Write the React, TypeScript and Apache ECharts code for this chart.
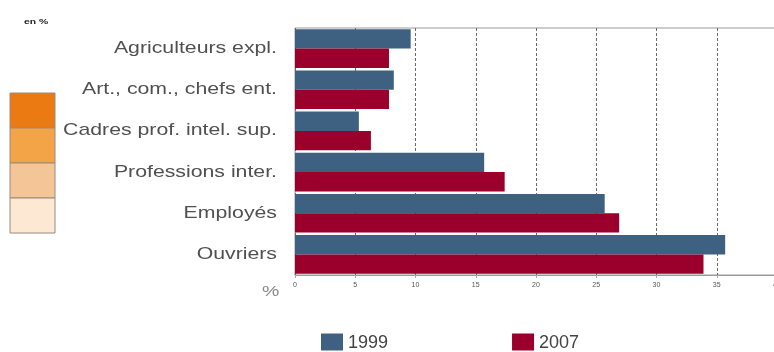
import React, { useEffect, useRef } from "react";
import * as echarts from "echarts";

const categories = [
  "Agriculteurs expl.",
  "Art., com., chefs ent.",
  "Cadres prof. intel. sup.",
  "Professions inter.",
  "Employés",
  "Ouvriers",
];
const values1999 = [9.6, 8.2, 5.3, 15.7, 25.7, 35.7];
const values2007 = [7.8, 7.8, 6.3, 17.4, 26.9, 33.9];
const seriesNames = ["1999", "2007"];
const legendBoxColors = ["#ec7a12", "#f3a446", "#f4c596", "#fde8d4"];

export default function App() {
  const ref = useRef<HTMLDivElement>(null);
  useEffect(() => {
    if (!ref.current) return;
    const chart = echarts.init(ref.current, null, { renderer: "svg" });
    const boxTop = 93;
    const cellH = 35;
    const boxGraphics = legendBoxColors.map((c, i) => ({
      type: "rect",
      shape: { x: 10, y: boxTop + i * cellH, width: 45, height: cellH },
      style: { fill: c, stroke: "#9a8a7a", lineWidth: 1 },
    }));
    const font = "Liberation Sans, Arial, sans-serif";
    chart.setOption({
      animation: false,
      textStyle: { fontFamily: font },
      grid: {
        left: 295,
        top: 28,
        width: 482,
        height: 247,
        show: true,
        borderColor: "#9a9a9a",
        borderWidth: 1,
        backgroundColor: "transparent",
      },
      legend: {
        data: seriesNames,
        left: 321,
        top: 333,
        padding: 0,
        itemWidth: 22,
        itemHeight: 17,
        itemGap: 124,
        icon: "rect",
        textStyle: { fontSize: 18, color: "#444", lineHeight: 17 },
      },
      xAxis: {
        type: "value",
        min: 0,
        max: 40,
        interval: 5,
        axisLine: { show: true, lineStyle: { color: "#9a9a9a" } },
        axisTick: { show: true, length: 3, lineStyle: { color: "#aaa" } },
        axisLabel: { fontSize: 7, color: "#555", margin: 6 },
        splitLine: {
          show: true,
          lineStyle: { color: "#6a6a6a", type: [3, 2], width: 1 },
        },
      },
      yAxis: {
        type: "category",
        data: categories,
        inverse: true,
        axisLine: { show: false },
        axisTick: { show: false },
        axisLabel: { show: false },
      },
      series: [
        {
          name: seriesNames[0],
          type: "bar",
          data: values1999,
          itemStyle: { color: "#3e6182" },
          barGap: "0%",
          barCategoryGap: "6%",
        },
        {
          name: seriesNames[1],
          type: "bar",
          data: values2007,
          itemStyle: { color: "#9b002c" },
          barGap: "0%",
          barCategoryGap: "6%",
        },
        {
          name: "labels",
          type: "custom",
          clip: false,
          silent: true,
          data: categories.map((c, i) => [0, i]),
          encode: { x: 0, y: 1 },
          renderItem: (params: any, api: any) => {
            const idx = api.value(1);
            const p = api.coord([0, idx]);
            return {
              type: "text",
              x: p[0] - 18,
              y: p[1] - 1,
              scaleX: 1.33,
              style: {
                text: categories[idx],
                align: "right",
                verticalAlign: "middle",
                fontSize: 16,
                fontFamily: font,
                fill: "#505050",
              },
            };
          },
        },
      ],
      graphic: [
        {
          type: "text",
          x: 24,
          y: 17,
          scaleX: 1.3,
          style: { text: "en %", fontSize: 8, fontWeight: "bold", fill: "#222" },
        },
        {
          type: "text",
          x: 262,
          y: 283,
          scaleX: 1.3,
          style: { text: "%", fontSize: 15, fill: "#888" },
        },
        ...boxGraphics,
      ],
    });
    return () => chart.dispose();
  }, []);
  return (
    <div
      ref={ref}
      style={{ position: "fixed", left: 0, top: 0, width: 800, height: 352 }}
    />
  );
}
